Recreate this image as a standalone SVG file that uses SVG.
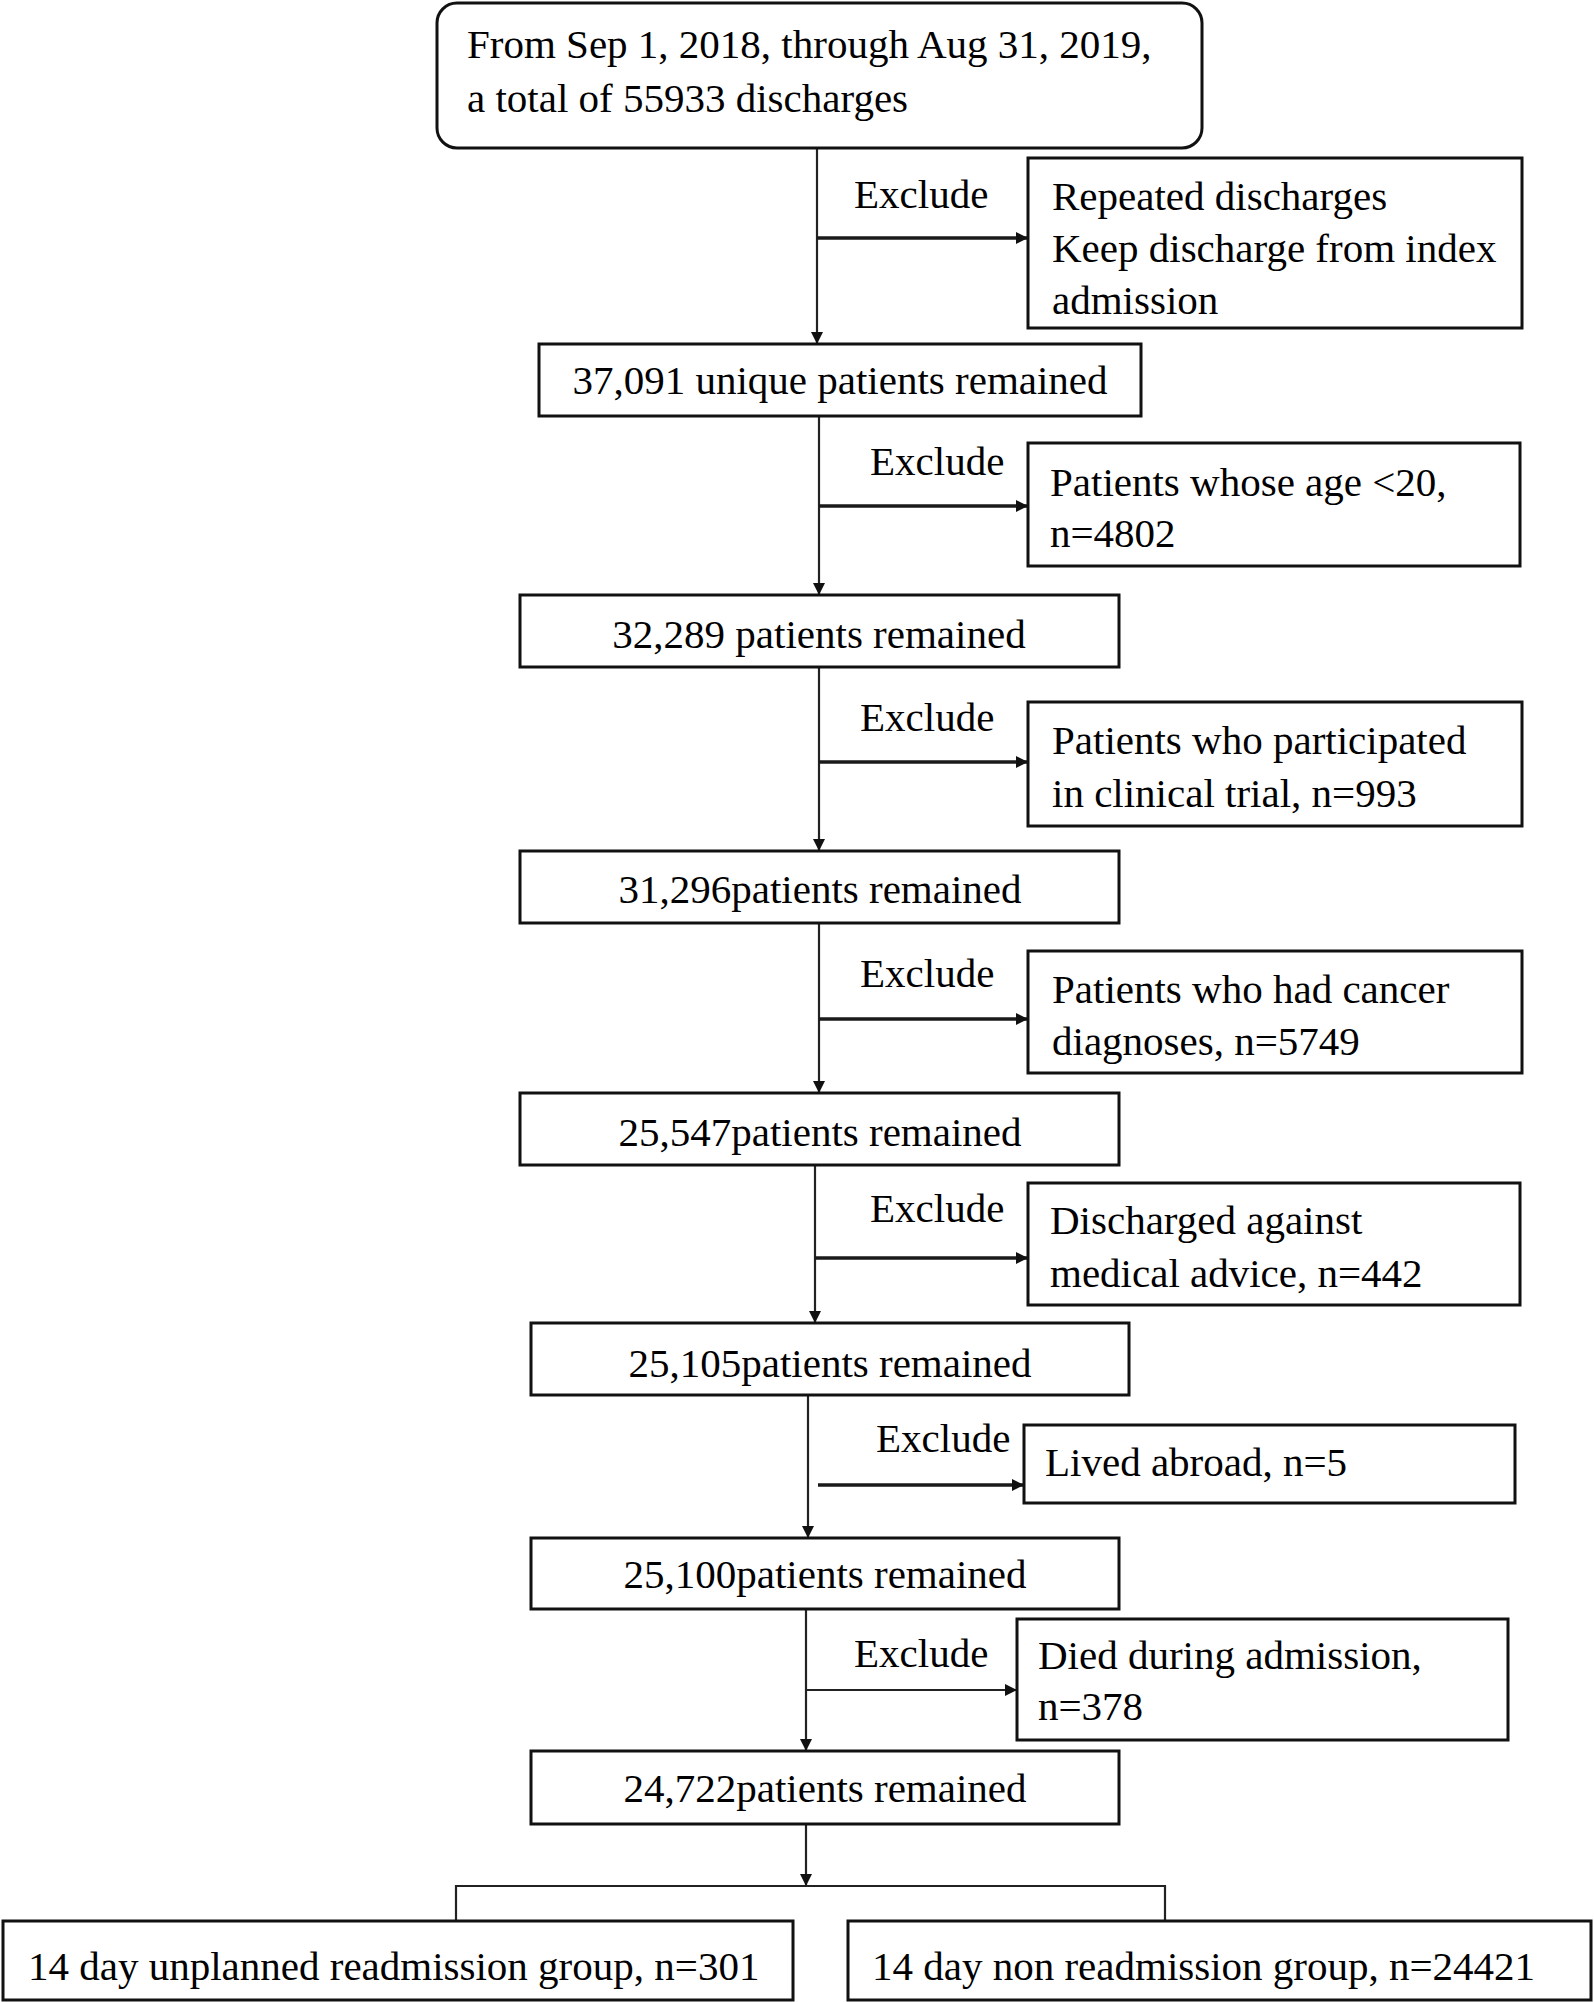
<svg xmlns="http://www.w3.org/2000/svg" width="1594" height="2002" viewBox="0 0 1594 2002">
<style>
  text { font-family: "Liberation Serif", "Times New Roman", serif; font-size: 41px; fill: #000; }
  .box { fill: #fff; stroke: #111; stroke-width: 3; }
  .c { text-anchor: middle; }
  .ln { fill: none; stroke: #222; stroke-width: 2.2; }
  .hl { fill: none; stroke: #1a1a1a; stroke-width: 3.5; }
</style>
<defs>
  <marker id="ah" viewBox="0 0 10 10" refX="10" refY="5" markerWidth="14" markerHeight="12" markerUnits="userSpaceOnUse" orient="auto">
    <path d="M0,0 L10,5 L0,10 z" fill="#111"/>
  </marker>
</defs>
<rect width="1594" height="2002" fill="#fff"/>

<g id="connectors">
  <line class="ln" x1="817" y1="148" x2="817" y2="344" marker-end="url(#ah)"/>
  <line class="hl" x1="817" y1="238" x2="1028" y2="238" marker-end="url(#ah)"/>
  <line class="ln" x1="819" y1="416" x2="819" y2="595" marker-end="url(#ah)"/>
  <line class="hl" x1="819" y1="506" x2="1028" y2="506" marker-end="url(#ah)"/>
  <line class="ln" x1="819" y1="667" x2="819" y2="851" marker-end="url(#ah)"/>
  <line class="hl" x1="819" y1="762" x2="1028" y2="762" marker-end="url(#ah)"/>
  <line class="ln" x1="819" y1="923" x2="819" y2="1093" marker-end="url(#ah)"/>
  <line class="hl" x1="819" y1="1019" x2="1028" y2="1019" marker-end="url(#ah)"/>
  <line class="ln" x1="815" y1="1165" x2="815" y2="1323" marker-end="url(#ah)"/>
  <line class="hl" x1="815" y1="1258" x2="1028" y2="1258" stroke="#777" marker-end="url(#ah)"/>
  <line class="ln" x1="808" y1="1395" x2="808" y2="1538" stroke="#555" marker-end="url(#ah)"/>
  <line class="hl" x1="818" y1="1485" x2="1024" y2="1485" marker-end="url(#ah)"/>
  <line class="ln" x1="806" y1="1609" x2="806" y2="1751" stroke="#444" stroke-width="3" marker-end="url(#ah)"/>
  <line class="ln" x1="806" y1="1690" x2="1017" y2="1690" stroke="#444" marker-end="url(#ah)"/>
  <line class="ln" x1="806" y1="1824" x2="806" y2="1886" stroke="#444" stroke-width="3" marker-end="url(#ah)"/>
  <polyline class="ln" points="456,1921 456,1886 1165,1886 1165,1921"/>
  <text x="854" y="208">Exclude</text>
  <text x="870" y="475">Exclude</text>
  <text x="860" y="731">Exclude</text>
  <text x="860" y="987">Exclude</text>
  <text x="870" y="1222">Exclude</text>
  <text x="876" y="1452">Exclude</text>
  <text x="854" y="1667">Exclude</text>
</g>

<g id="start">
  <rect class="box" x="437" y="3" width="765" height="145" rx="20" stroke-width="2.5"/>
  <text x="467" y="58">From Sep 1, 2018, through Aug 31, 2019,</text>
  <text x="467" y="112">a total of 55933 discharges</text>
</g>

<g id="n1">
  <rect class="box" x="539" y="344" width="602" height="72"/>
  <text class="c" x="840" y="394">37,091 unique patients remained</text>
</g>
<g id="n2">
  <rect class="box" x="520" y="595" width="599" height="72"/>
  <text class="c" x="819" y="648">32,289 patients remained</text>
</g>
<g id="n3">
  <rect class="box" x="520" y="851" width="599" height="72"/>
  <text class="c" x="820" y="903">31,296patients remained</text>
</g>
<g id="n4">
  <rect class="box" x="520" y="1093" width="599" height="72"/>
  <text class="c" x="820" y="1146">25,547patients remained</text>
</g>
<g id="n5">
  <rect class="box" x="531" y="1323" width="598" height="72"/>
  <text class="c" x="830" y="1377">25,105patients remained</text>
</g>
<g id="n6">
  <rect class="box" x="531" y="1538" width="588" height="71"/>
  <text class="c" x="825" y="1588">25,100patients remained</text>
</g>
<g id="n7">
  <rect class="box" x="531" y="1751" width="588" height="73"/>
  <text class="c" x="825" y="1802">24,722patients remained</text>
</g>

<g id="exA">
  <rect class="box" x="1028" y="158" width="494" height="170"/>
  <text x="1052" y="210">Repeated discharges</text>
  <text x="1052" y="262">Keep discharge from index</text>
  <text x="1052" y="314">admission</text>
</g>
<g id="exB">
  <rect class="box" x="1028" y="443" width="492" height="123"/>
  <text x="1050" y="496">Patients whose age &lt;20,</text>
  <text x="1050" y="547">n=4802</text>
</g>
<g id="exC">
  <rect class="box" x="1028" y="702" width="494" height="124"/>
  <text x="1052" y="754">Patients who participated</text>
  <text x="1052" y="807">in clinical trial, n=993</text>
</g>
<g id="exD">
  <rect class="box" x="1028" y="951" width="494" height="122"/>
  <text x="1052" y="1003">Patients who had cancer</text>
  <text x="1052" y="1055">diagnoses, n=5749</text>
</g>
<g id="exE">
  <rect class="box" x="1028" y="1183" width="492" height="122"/>
  <text x="1050" y="1234">Discharged against</text>
  <text x="1050" y="1287">medical advice, n=442</text>
</g>
<g id="exF">
  <rect class="box" x="1024" y="1425" width="491" height="78"/>
  <text x="1045" y="1476">Lived abroad, n=5</text>
</g>
<g id="exG">
  <rect class="box" x="1017" y="1619" width="491" height="121"/>
  <text x="1038" y="1669">Died during admission,</text>
  <text x="1038" y="1720">n=378</text>
</g>

<g id="g1">
  <rect class="box" x="3" y="1921" width="790" height="79"/>
  <text x="28" y="1980">14 day unplanned readmission group, n=301</text>
</g>
<g id="g2">
  <rect class="box" x="848" y="1921" width="743" height="79"/>
  <text x="872" y="1980">14 day non readmission group, n=24421</text>
</g>
</svg>
